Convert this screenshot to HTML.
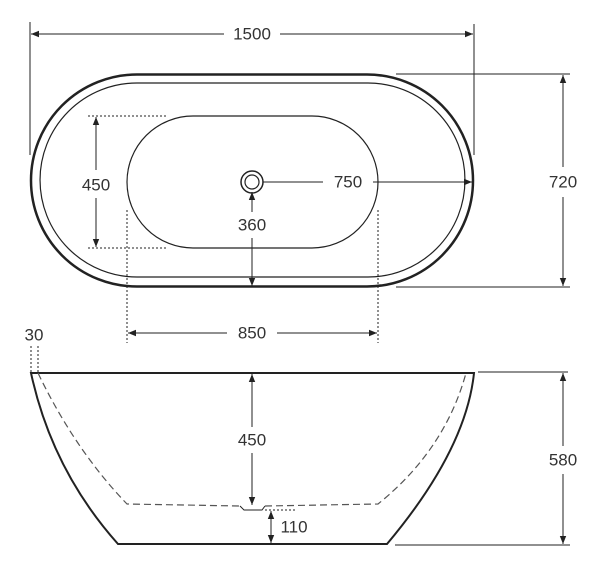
<!DOCTYPE html>
<html><head><style>
html,body{margin:0;padding:0;background:#fff;width:600px;height:574px;overflow:hidden}
text{font-family:"Liberation Sans",sans-serif;font-size:17px;fill:#333;text-anchor:middle;dominant-baseline:central}
</style></head><body>
<svg width="600" height="574" viewBox="0 0 600 574" xmlns="http://www.w3.org/2000/svg">
<defs>
<marker id="a" viewBox="0 0 10 10" refX="10" refY="5" markerWidth="8" markerHeight="8" orient="auto-start-reverse" markerUnits="userSpaceOnUse"><path d="M0,1 L10,5 L0,9 z" fill="#222"/></marker>
</defs>
<g fill="none" stroke="#222">
<!-- top view -->
<path d="M137,74.5 H367 A106,106 0 0 1 367,286.5 H137 A106,106 0 0 1 137,74.5 Z" stroke-width="2.5"/>
<path d="M137,83 H368 A97,97 0 0 1 368,277 H137 A97,97 0 0 1 137,83 Z" stroke-width="1.2"/>
<path d="M193,116 H312 A66,66 0 0 1 312,248 H193 A66,66 0 0 1 193,116 Z" stroke-width="1.2"/>
<circle cx="252" cy="182" r="11" stroke-width="1.5"/>
<circle cx="252" cy="182" r="7" stroke-width="1.2"/>
<!-- 1500 -->
<line x1="30" y1="22" x2="30" y2="155" stroke-width="1"/>
<line x1="474" y1="24" x2="474" y2="155" stroke-width="1"/>
<line x1="224" y1="34" x2="31" y2="34" stroke-width="1" marker-end="url(#a)"/>
<line x1="280" y1="34" x2="473" y2="34" stroke-width="1" marker-end="url(#a)"/>
<!-- 720 -->
<line x1="396" y1="74" x2="570" y2="74" stroke-width="1"/>
<line x1="396" y1="287" x2="570" y2="287" stroke-width="1"/>
<line x1="563" y1="167" x2="563" y2="75" stroke-width="1" marker-end="url(#a)"/>
<line x1="563" y1="197" x2="563" y2="286" stroke-width="1" marker-end="url(#a)"/>
<!-- 450 top -->
<line x1="88" y1="116" x2="167" y2="116" stroke-width="1" stroke-dasharray="2,2"/>
<line x1="88" y1="248" x2="167" y2="248" stroke-width="1" stroke-dasharray="2,2"/>
<line x1="96" y1="170" x2="96" y2="117" stroke-width="1" marker-end="url(#a)"/>
<line x1="96" y1="198" x2="96" y2="247" stroke-width="1" marker-end="url(#a)"/>
<!-- 750 -->
<line x1="263" y1="182" x2="323" y2="182" stroke-width="1"/>
<line x1="373" y1="182" x2="472" y2="182" stroke-width="1" marker-end="url(#a)"/>
<!-- 360 -->
<line x1="252" y1="196" x2="252" y2="212" stroke-width="1"/>
<line x1="252" y1="238" x2="252" y2="286" stroke-width="1" marker-end="url(#a)"/>
<line x1="252" y1="205" x2="252" y2="192" stroke-width="1" marker-end="url(#a)"/>
<!-- dotted verticals + 850 -->
<line x1="127" y1="210" x2="127" y2="343" stroke-width="1" stroke-dasharray="2,2"/>
<line x1="378" y1="210" x2="378" y2="343" stroke-width="1" stroke-dasharray="2,2"/>
<line x1="227" y1="333" x2="128" y2="333" stroke-width="1" marker-end="url(#a)"/>
<line x1="277" y1="333" x2="377" y2="333" stroke-width="1" marker-end="url(#a)"/>
<!-- side view -->
<path d="M31,373 H474 Q466,450 387,544 H118 Q52,470 31,373 Z" stroke-width="2"/>
<path d="M38,373 Q75,450 127,504 L240,506 M265,506 L378,504 Q445,450 466,373" stroke-width="1.2" stroke-dasharray="7,4" stroke="#555"/>
<path d="M240,506 L244,510 H262 L265,506" stroke-width="1"/>
<line x1="265" y1="510" x2="295" y2="510" stroke-width="1" stroke-dasharray="2,2"/>
<line x1="31" y1="346" x2="31" y2="373" stroke-width="1" stroke-dasharray="2,2"/>
<line x1="38" y1="346" x2="38" y2="373" stroke-width="1" stroke-dasharray="2,2"/>
<!-- 450 side -->
<line x1="252" y1="427" x2="252" y2="374" stroke-width="1" marker-end="url(#a)"/>
<line x1="252" y1="453" x2="252" y2="505" stroke-width="1" marker-end="url(#a)"/>
<!-- 110 -->
<line x1="271" y1="527" x2="271" y2="511" stroke-width="1" marker-end="url(#a)"/>
<line x1="271" y1="527" x2="271" y2="543" stroke-width="1" marker-end="url(#a)"/>
<!-- 580 -->
<line x1="478" y1="372" x2="568" y2="372" stroke-width="1"/>
<line x1="395" y1="545" x2="570" y2="545" stroke-width="1"/>
<line x1="563" y1="446" x2="563" y2="373" stroke-width="1" marker-end="url(#a)"/>
<line x1="563" y1="474" x2="563" y2="544" stroke-width="1" marker-end="url(#a)"/>
</g>
<text x="252" y="34">1500</text>
<text x="563" y="182">720</text>
<text x="96" y="185">450</text>
<text x="348" y="182">750</text>
<text x="252" y="225">360</text>
<text x="252" y="333">850</text>
<text x="34" y="335">30</text>
<text x="252" y="440">450</text>
<text x="294" y="527">110</text>
<text x="563" y="460">580</text>
</svg>
</body></html>
